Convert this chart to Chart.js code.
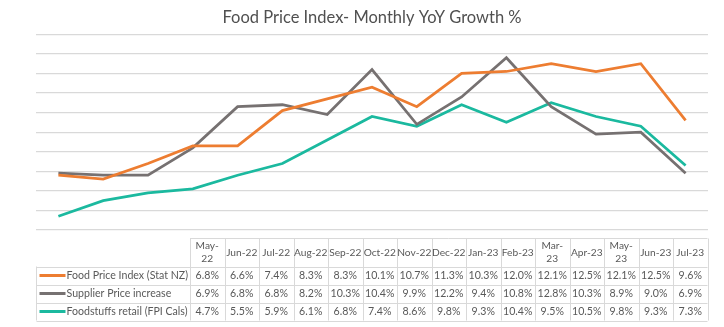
<!DOCTYPE html>
<html>
<head>
<meta charset="utf-8">
<script src="https://cdn.jsdelivr.net/npm/chart.js@4"></script>
<style>
  body { margin: 0; background: #fff; }
  #wrap { width: 724px; height: 327px; }
</style>
</head>
<body>
<div id="wrap"><canvas id="main" width="724" height="327"></canvas></div>
<script>
const months = ['May-22','Jun-22','Jul-22','Aug-22','Sep-22','Oct-22','Nov-22','Dec-22','Jan-23','Feb-23','Mar-23','Apr-23','May-23','Jun-23','Jul-23'];
// header text as it is wrapped in the table
const tickLabels = [['May-','22'],'Jun-22','Jul-22','Aug-22','Sep-22','Oct-22','Nov-22','Dec-22','Jan-23','Feb-23',['Mar-','23'],'Apr-23',['May-','23'],'Jun-23','Jul-23'];
const foodPriceIndex = [6.8,6.6,7.4,8.3,8.3,10.1,10.7,11.3,10.3,12.0,12.1,12.5,12.1,12.5,9.6];
const supplierPrice = [6.9,6.8,6.8,8.2,10.3,10.4,9.9,12.2,9.4,10.8,12.8,10.3,8.9,9.0,6.9];
const foodstuffsRetail = [4.7,5.5,5.9,6.1,6.8,7.4,8.6,9.8,9.3,10.4,9.5,10.5,9.8,9.3,7.3];
const seriesNames = ['Food Price Index (Stat NZ)','Supplier Price increase','Foodstuffs retail (FPI Cals)'];
const yMin = 4, yMax = 14;

const fontFam = 'Lato, "Noto Sans", sans-serif';
const textCol = '#595959';
const lineCol = '#d9d9d9';

// draws the excel style data table under the plot
const tablePlugin = {
    id: 'dataTable',
    afterDraw(chart) {
        const ctx = chart.ctx;
        const a = chart.chartArea;
        const left = Math.round(a.left) + 0.5;
        const right = Math.round(a.right) - 0.5;
        const colStart = left + 153.5;
        const colW = (right - colStart) / months.length;
        const top = Math.round(a.bottom) + 8.5;
        const headH = 28;
        const rowH = 18;
        const nRows = chart.data.datasets.length;
        const bottom = top + headH + rowH * nRows;

        ctx.save();
        ctx.strokeStyle = lineCol;
        ctx.lineWidth = 1;
        ctx.beginPath();
        ctx.moveTo(colStart, top); ctx.lineTo(right, top);
        for (let i = 0; i <= months.length; i++){
            const x = Math.round(colStart + i * colW) + 0.5;
            ctx.moveTo(x, top); ctx.lineTo(x, bottom);
        }
        for (let r = 0; r <= nRows; r++){
            const y = Math.round(top + headH + r * rowH) + 0.5;
            ctx.moveTo(left, y); ctx.lineTo(right, y);
        }
        ctx.moveTo(left, top + headH); ctx.lineTo(left, bottom);
        ctx.stroke();

        ctx.fillStyle = textCol;
        ctx.font = '10.2px ' + fontFam;
        ctx.textAlign = 'center';
        ctx.textBaseline = 'middle';
        tickLabels.forEach((m, i) => {
            const cx = colStart + (i + 0.5) * colW;
            if (Array.isArray(m)){
                ctx.fillText(m[0], cx, top + headH / 2 - 6.5);
                ctx.fillText(m[1], cx, top + headH / 2 + 6.5);
            }
            else{
                ctx.fillText(m, cx, top + headH / 2);
            }
        });
        ctx.font = '10.6px ' + fontFam;
        chart.data.datasets.forEach((ds, r) => {
            const cy = top + headH + (r + 0.5) * rowH;
            ctx.strokeStyle = ds.borderColor;
            ctx.lineWidth = 3;
            ctx.beginPath();
            ctx.moveTo(left + 3, cy); ctx.lineTo(left + 29, cy);
            ctx.stroke();
            ctx.textAlign = 'left';
            ctx.fillText(ds.label, left + 30, cy);
            ctx.textAlign = 'center';
            ds.data.forEach((v, i) => {
                ctx.fillText(v.toFixed(1) + '%', colStart + (i + 0.5) * colW, cy);
            });
        });
        ctx.restore();
    }
};

new Chart(document.getElementById('main'), {
    type: 'line',
    data: {
        labels: months,
        datasets: [
            { label: seriesNames[0], data: foodPriceIndex, borderColor: '#ed7d31' },
            { label: seriesNames[1], data: supplierPrice, borderColor: '#767171' },
            { label: seriesNames[2], data: foodstuffsRetail, borderColor: '#1bb99f' }
        ].map(d => Object.assign(d, { borderWidth: 2.75, pointRadius: 0, tension: 0, fill: false }))
    },
    options: {
        responsive: false,
        animation: false,
        devicePixelRatio: 1,
        layout: { padding: { left: 36, right: 16, top: 0, bottom: 97 } },
        plugins: {
            legend: { display: false },
            tooltip: { enabled: false },
            title: {
                display: true,
                text: 'Food Price Index- Monthly YoY Growth %',
                color: '#505050',
                font: { family: fontFam, size: 16.5, weight: 'normal' },
                padding: { top: 7.5, bottom: 7 }
            }
        },
        scales: {
            x: {
                offset: true,
                grid: { display: false, drawTicks: false },
                border: { display: false },
                ticks: { display: false }
            },
            y: {
                min: yMin,
                max: yMax,
                ticks: { display: false, stepSize: 1 },
                grid: { color: lineCol, drawTicks: false, lineWidth: 1.2 },
                border: { display: false }
            }
        }
    },
    plugins: [tablePlugin]
});
</script>
</body>
</html>
